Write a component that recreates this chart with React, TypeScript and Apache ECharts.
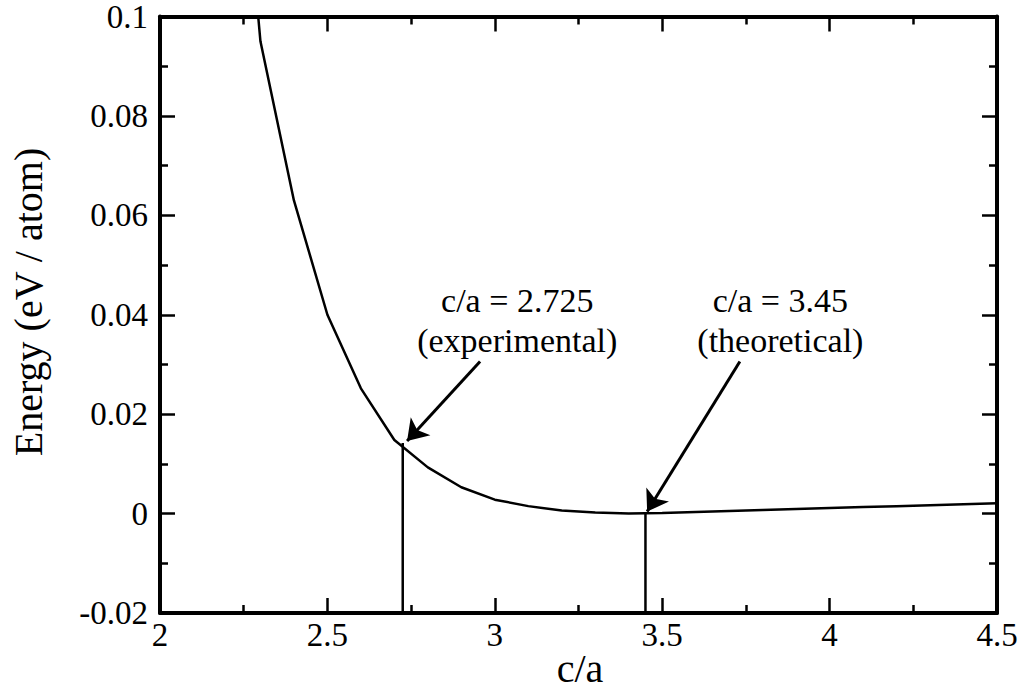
import React, { useEffect, useRef } from "react";
import * as echarts from "echarts";

const caValues = [2.2, 2.3, 2.4, 2.5, 2.6, 2.7, 2.8, 2.9, 3.0, 3.1, 3.2, 3.3, 3.4, 3.5, 3.6, 3.7, 3.8, 3.9, 4.0, 4.1, 4.2, 4.3, 4.4, 4.5];
const energyValues = [0.17, 0.095, 0.063, 0.04, 0.0252, 0.0148, 0.0093, 0.0053, 0.0028, 0.0015, 0.0006, 0.0002, 0.0, 0.0001, 0.0003, 0.0005, 0.0007, 0.0009, 0.0011, 0.0013, 0.0015, 0.0017, 0.0019, 0.0021];

const expCa = 2.725;
const expE = 0.0142;
const theoCa = 3.45;
const theoE = 0.0;

const annotationTexts = ["c/a = 2.725", "(experimental)", "c/a = 3.45", "(theoretical)"];
const annotationX = [3.067, 3.067, 3.853, 3.853];
const annotationY = [0.0428, 0.0349, 0.0428, 0.0349];
const expArrow = [[2.956, 0.0306], [2.738, 0.0146]];
const theoArrow = [[3.732, 0.0306], [3.455, 0.0004]];

const FONT = "'Liberation Serif', 'Times New Roman', Times, serif";

export default function App() {
  const ref = useRef<HTMLDivElement>(null);
  useEffect(() => {
    if (!ref.current) return;
    const chart = echarts.init(ref.current, undefined, { renderer: "svg" });
    const axisCommon = {
      axisLine: { show: true, onZero: false, lineStyle: { color: "#000", width: 4 } },
      axisTick: { show: true, inside: true, length: 15, lineStyle: { color: "#000", width: 2.5 } },
      minorTick: { show: true, splitNumber: 2, length: 8, lineStyle: { color: "#000", width: 2.5 } },
      splitLine: { show: false },
    };
    const fmtY = (v: number) => String(parseFloat(v.toFixed(3)));
    const fmtX = (v: number) => String(parseFloat(v.toFixed(2)));
    chart.setOption({
      animation: false,
      backgroundColor: "#fff",
      textStyle: { fontFamily: FONT },
      grid: { left: 160, right: 34, top: 16, bottom: 76, containLabel: false },
      xAxis: [
        {
          type: "value", min: 2, max: 4.5, interval: 0.5, position: "bottom",
          ...axisCommon,
          axisLabel: { show: true, margin: 5, color: "#000", fontFamily: FONT, fontSize: 33, formatter: fmtX },
        },
        {
          type: "value", min: 2, max: 4.5, interval: 0.5, position: "top",
          ...axisCommon,
          axisLabel: { show: false },
        },
      ],
      yAxis: [
        {
          type: "value", min: -0.02, max: 0.1, interval: 0.02, position: "left",
          ...axisCommon,
          axisLabel: { show: true, margin: 12, color: "#000", fontFamily: FONT, fontSize: 33, formatter: fmtY },
        },
        {
          type: "value", min: -0.02, max: 0.1, interval: 0.02, position: "right",
          ...axisCommon,
          axisLabel: { show: false },
        },
      ],
      series: [
        {
          type: "line",
          data: caValues.map((c, i) => [c, energyValues[i]]),
          showSymbol: false,
          symbol: "none",
          clip: true,
          lineStyle: { color: "#000", width: 2.5 },
        },
        {
          type: "line",
          data: [[expCa, -0.02], [expCa, expE]],
          symbol: "none",
          lineStyle: { color: "#000", width: 2.5 },
        },
        {
          type: "line",
          data: [[theoCa, -0.02], [theoCa, theoE]],
          symbol: "none",
          lineStyle: { color: "#000", width: 2.5 },
        },
        {
          type: "scatter",
          data: annotationTexts.map((t, i) => ({ value: [annotationX[i], annotationY[i]], label: { formatter: t } })),
          symbolSize: 1,
          itemStyle: { color: "rgba(0,0,0,0)", opacity: 1 },
          label: {
            show: true, position: "inside", color: "#000", fontFamily: FONT, fontSize: 34,
            lineHeight: 34, align: "center", verticalAlign: "middle",
          },
        },
        {
          type: "line",
          data: [],
          itemStyle: { color: "#000" },
          markLine: {
            silent: true,
            symbol: ["none", "arrow"],
            symbolSize: 20,
            label: { show: false },
            itemStyle: { color: "#000" },
            lineStyle: { color: "#000", width: 3, type: "solid" },
            data: [
              [{ coord: expArrow[0] }, { coord: expArrow[1] }],
              [{ coord: theoArrow[0] }, { coord: theoArrow[1] }],
            ],
          },
        },
      ],
      graphic: [
        {
          type: "text", x: 28, y: 302, rotation: Math.PI / 2,
          style: { text: "Energy (eV / atom)", fontFamily: FONT, fontSize: 40, fill: "#000", textAlign: "center", textVerticalAlign: "middle" },
        },
        {
          type: "text", x: 580, y: 668,
          style: { text: "c/a", fontFamily: FONT, fontSize: 40, fill: "#000", textAlign: "center", textVerticalAlign: "middle" },
        },
      ],
    });
    return () => chart.dispose();
  }, []);
  return <div ref={ref} style={{ position: "absolute", left: 0, top: 0, width: 1031, height: 689 }} />;
}
